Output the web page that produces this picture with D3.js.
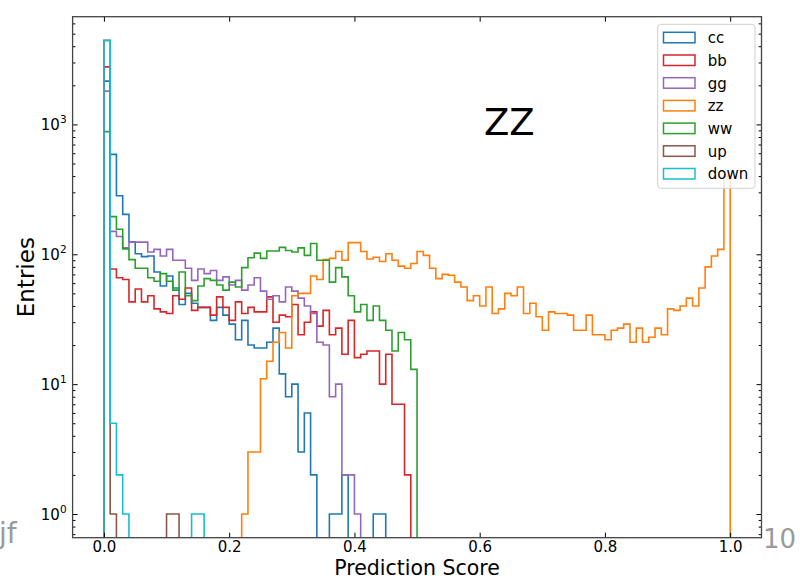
<!DOCTYPE html>
<html>
<head>
<meta charset="utf-8">
<script src="https://cdn.jsdelivr.net/npm/d3@7"></script>
<style>
  body { margin: 0; background: #fff; }
  svg { display: block; }
  text { font-family: "DejaVu Sans", sans-serif; }
</style>
</head>
<body>
<svg id="chart" width="800" height="580"></svg>
<script>
// Histogram binning: 100 equal bins on [0, 1]
const binLow = 0, binHigh = 1, binCount = 100;

// Per-class entries per bin of the prediction score
const cc = [
  2153, 588, 282, 203, 125, 101, 96, 97, 73, 57,
  68, 55, 41, 50, 42, 39, 39, 31, 39, 34,
  29, 22, 31, 20, 19, 19, 21, 27, 12, 8,
  10, 3, 6, 2, 0, 0, 1, 1, 2, 0,
  0, 0, 0, 1, 1, 0, 0, 0, 0, 0,
  0, 0, 0, 0, 0, 0, 0, 0, 0, 0,
  0, 0, 0, 0, 0, 0, 0, 0, 0, 0,
  0, 0, 0, 0, 0, 0, 0, 0, 0, 0,
  0, 0, 0, 0, 0, 0, 0, 0, 0, 0,
  0, 0, 0, 0, 0, 0, 0, 0, 0, 0
];
const bb = [
  2773, 77, 66, 64, 43, 54, 43, 48, 38, 36,
  35, 48, 45, 55, 37, 39, 39, 34, 47, 39,
  31, 43, 35, 39, 36, 36, 47, 30, 34, 33,
  41, 24, 30, 36, 28, 37, 24, 27, 17, 31,
  16, 17, 18, 18, 10, 17, 7, 7, 2, 0,
  0, 0, 0, 0, 0, 0, 0, 0, 0, 0,
  0, 0, 0, 0, 0, 0, 0, 0, 0, 0,
  0, 0, 0, 0, 0, 0, 0, 0, 0, 0,
  0, 0, 0, 0, 0, 0, 0, 0, 0, 0,
  0, 0, 0, 0, 0, 0, 0, 0, 0, 0
];
const gg = [
  1803, 150, 137, 112, 124, 124, 124, 104, 109, 97,
  109, 90, 90, 78, 63, 77, 71, 75, 63, 67,
  58, 63, 53, 58, 66, 52, 45, 48, 43, 56,
  52, 46, 40, 35, 21, 20, 8, 10, 2, 2,
  1, 0, 0, 0, 0, 0, 0, 0, 0, 0,
  0, 0, 0, 0, 0, 0, 0, 0, 0, 0,
  0, 0, 0, 0, 0, 0, 0, 0, 0, 0,
  0, 0, 0, 0, 0, 0, 0, 0, 0, 0,
  0, 0, 0, 0, 0, 0, 0, 0, 0, 0,
  0, 0, 0, 0, 0, 0, 0, 0, 0, 0
];
const zz = [
  0, 0, 0, 0, 0, 0, 0, 0, 0, 0,
  0, 0, 0, 0, 0, 0, 0, 0, 0, 0,
  0, 0, 1, 3, 3, 11, 15, 21, 25, 19,
  48, 50, 50, 68, 64, 91, 93, 105, 90, 123,
  123, 105, 92, 95, 88, 101, 90, 81, 78, 85,
  105, 98, 78, 65, 70, 69, 61, 56, 44, 48,
  40, 56, 35, 38, 50, 48, 56, 35, 42, 33,
  26, 36, 35, 35, 34, 26, 26, 34, 24, 24,
  22, 26, 27, 29, 21, 27, 21, 23, 27, 24,
  38, 37, 40, 46, 40, 55, 80, 97, 109, 400
];
const ww = [
  880, 195, 156, 110, 91, 78, 78, 66, 62, 71,
  62, 53, 73, 48, 44, 57, 65, 63, 58, 53,
  61, 56, 79, 94, 102, 93, 106, 106, 113, 107,
  104, 112, 98, 121, 90, 90, 61, 79, 67, 48,
  36, 41, 31, 40, 31, 26, 18, 25, 22, 13,
  0, 0, 0, 0, 0, 0, 0, 0, 0, 0,
  0, 0, 0, 0, 0, 0, 0, 0, 0, 0,
  0, 0, 0, 0, 0, 0, 0, 0, 0, 0,
  0, 0, 0, 0, 0, 0, 0, 0, 0, 0,
  0, 0, 0, 0, 0, 0, 0, 0, 0, 0
];
const up = [
  4437, 1, 0, 0, 0, 0, 0, 0, 0, 0,
  1, 1, 0, 0, 0, 0, 0, 0, 0, 0,
  0, 0, 0, 0, 0, 0, 0, 0, 0, 0,
  0, 0, 0, 0, 0, 0, 0, 0, 0, 0,
  0, 0, 0, 0, 0, 0, 0, 0, 0, 0,
  0, 0, 0, 0, 0, 0, 0, 0, 0, 0,
  0, 0, 0, 0, 0, 0, 0, 0, 0, 0,
  0, 0, 0, 0, 0, 0, 0, 0, 0, 0,
  0, 0, 0, 0, 0, 0, 0, 0, 0, 0,
  0, 0, 0, 0, 0, 0, 0, 0, 0, 0
];
const down = [
  4430, 5, 2, 1, 0, 0, 0, 0, 0, 0,
  0, 0, 0, 0, 1, 1, 0, 0, 0, 0,
  0, 0, 0, 0, 0, 0, 0, 0, 0, 0,
  0, 0, 0, 0, 0, 0, 0, 0, 0, 0,
  0, 0, 0, 0, 0, 0, 0, 0, 0, 0,
  0, 0, 0, 0, 0, 0, 0, 0, 0, 0,
  0, 0, 0, 0, 0, 0, 0, 0, 0, 0,
  0, 0, 0, 0, 0, 0, 0, 0, 0, 0,
  0, 0, 0, 0, 0, 0, 0, 0, 0, 0,
  0, 0, 0, 0, 0, 0, 0, 0, 0, 0
];

const seriesNames = ["cc", "bb", "gg", "zz", "ww", "up", "down"];
const seriesValues = [cc, bb, gg, zz, ww, up, down];
const seriesColors = ["#1f77b4", "#d62728", "#9467bd", "#ff7f0e", "#2ca02c", "#8c564b", "#17becf"];

const xTickValues = [0, 0.2, 0.4, 0.6, 0.8, 1.0];
const xTickLabels = ["0.0", "0.2", "0.4", "0.6", "0.8", "1.0"];
const yTickValues = [1, 10, 100, 1000];
const yTickExponents = ["0", "1", "2", "3"];

const titleText = "ZZ";
const xLabel = "Prediction Score";
const yLabel = "Entries";

// ---- layout ----
const plot = { left: 72.6, right: 761.5, top: 16.7, bottom: 537.7 };
const svg = d3.select("#chart");

const edges = d3.range(binCount + 1).map(i => binLow + (binHigh - binLow) * i / binCount);

const x = d3.scaleLinear()
  .domain([binLow - 0.05 * (binHigh - binLow), binHigh + 0.05 * (binHigh - binLow)])
  .range([plot.left, plot.right]);

// log axis with 5% margins (in log space) around the positive data range
const positives = seriesValues.flat().filter(v => v > 0);
const logLo = Math.log10(d3.min(positives)), logHi = Math.log10(d3.max(positives));
const pad = 0.05 * (logHi - logLo);
const y = d3.scaleLog()
  .domain([Math.pow(10, logLo - pad), Math.pow(10, logHi + pad)])
  .range([plot.bottom, plot.top]);

svg.append("defs").append("clipPath").attr("id", "plotClip")
  .append("rect")
  .attr("x", plot.left).attr("y", plot.top)
  .attr("width", plot.right - plot.left).attr("height", plot.bottom - plot.top);

// ---- step histograms ----
const floorY = plot.bottom + 6;
const stepLine = d3.line()
  .x(d => x(d.e))
  .y(d => d.v > 0 ? y(d.v) : floorY)
  .curve(d3.curveStepAfter);

const histLayer = svg.append("g").attr("clip-path", "url(#plotClip)");
seriesValues.forEach((vals, k) => {
  const pts = [{ e: edges[0], v: 0 }]
    .concat(vals.map((v, i) => ({ e: edges[i], v })))
    .concat([{ e: edges[binCount], v: vals[binCount - 1] }, { e: edges[binCount], v: 0 }]);
  histLayer.append("path")
    .attr("d", stepLine(pts))
    .attr("fill", "none")
    .attr("stroke", seriesColors[k])
    .attr("stroke-width", 1.6)
    .attr("stroke-linejoin", "miter");
});

// ---- ticks (all pointing inward) ----
function styleAxis(g) {
  g.select(".domain").remove();
  g.selectAll(".tick line").attr("stroke", "#000").attr("stroke-width", 1);
  g.selectAll("text").attr("font-family", "DejaVu Sans, sans-serif").attr("font-size", 15).attr("fill", "#000");
}

const [yLoD, yHiD] = y.domain();
const minorY = [];
for (let p = Math.floor(Math.log10(yLoD)); p <= Math.ceil(Math.log10(yHiD)); p++) {
  for (let m = 2; m <= 9; m++) {
    const v = m * Math.pow(10, p);
    if (v >= yLoD && v <= yHiD) minorY.push(v);
  }
}

svg.append("g").attr("transform", `translate(0,${plot.bottom})`)
  .call(d3.axisBottom(x).tickValues(xTickValues).tickSize(-5).tickPadding(3.5)
    .tickFormat((d, i) => xTickLabels[i]))
  .call(styleAxis);
svg.append("g").attr("transform", `translate(0,${plot.top})`)
  .call(d3.axisTop(x).tickValues(xTickValues).tickSize(-5).tickFormat(""))
  .call(styleAxis);

svg.append("g").attr("transform", `translate(${plot.left},0)`)
  .call(d3.axisLeft(y).tickValues(yTickValues).tickSize(-5).tickFormat(""))
  .call(styleAxis);
svg.append("g").attr("transform", `translate(${plot.left},0)`)
  .call(d3.axisLeft(y).tickValues(minorY).tickSize(-2.8).tickFormat(""))
  .call(styleAxis);
svg.append("g").attr("transform", `translate(${plot.right},0)`)
  .call(d3.axisRight(y).tickValues(yTickValues).tickSize(-5).tickFormat(""))
  .call(styleAxis);
svg.append("g").attr("transform", `translate(${plot.right},0)`)
  .call(d3.axisRight(y).tickValues(minorY).tickSize(-2.8).tickFormat(""))
  .call(styleAxis);

// y tick labels as 10 with superscript exponent
const yLab = svg.append("g");
yTickValues.forEach((v, i) => {
  const t = yLab.append("text")
    .attr("x", plot.left - 6)
    .attr("y", y(v) + 5.5)
    .attr("text-anchor", "end")
    .attr("font-size", 15)
    .attr("fill", "#000");
  t.append("tspan").text("10");
  t.append("tspan").attr("font-size", 10.5).attr("dy", -6.5).text(yTickExponents[i]);
});

// ---- spines ----
svg.append("rect")
  .attr("x", plot.left).attr("y", plot.top)
  .attr("width", plot.right - plot.left).attr("height", plot.bottom - plot.top)
  .attr("fill", "none").attr("stroke", "#444").attr("stroke-width", 1.3);

// ---- axis labels ----
svg.append("text")
  .attr("x", (plot.left + plot.right) / 2).attr("y", 574.8)
  .attr("text-anchor", "middle").attr("font-size", 20.5).attr("fill", "#000")
  .text(xLabel);
svg.append("text")
  .attr("transform", `translate(34,${(plot.top + plot.bottom) / 2}) rotate(-90)`)
  .attr("text-anchor", "middle").attr("font-size", 23).attr("fill", "#000")
  .text(yLabel);

// ---- class title inside the axes ----
svg.append("text")
  .attr("x", plot.left + 0.6 * (plot.right - plot.left) - 2)
  .attr("y", 135)
  .attr("font-size", 37).attr("fill", "#000")
  .text(titleText);

// ---- legend ----
const legend = svg.append("g");
const lg = { x: 657.7, y: 24.3, w: 97.3, h: 164, rowTop: 32.3, rowStep: 22.7 };
legend.append("rect")
  .attr("x", lg.x).attr("y", lg.y).attr("width", lg.w).attr("height", lg.h)
  .attr("rx", 3).attr("ry", 3)
  .attr("fill", "#fff").attr("fill-opacity", 0.8)
  .attr("stroke", "#d0d0d0").attr("stroke-width", 1);
seriesNames.forEach((name, k) => {
  const top = lg.rowTop + k * lg.rowStep;
  legend.append("rect")
    .attr("x", 663.5).attr("y", top).attr("width", 31.5).attr("height", 10.5)
    .attr("fill", "none").attr("stroke", seriesColors[k]).attr("stroke-width", 1.5);
  legend.append("text")
    .attr("x", 707.7).attr("y", top + 10.8)
    .attr("font-size", 15).attr("fill", "#000")
    .text(name);
});

// ---- stray grey labels at the figure edges ----
svg.append("text").attr("x", -1).attr("y", 543)
  .attr("font-size", 28).attr("fill", "#9a9a9a").text("jf");
svg.append("text").attr("x", 763).attr("y", 548)
  .attr("font-size", 26).attr("fill", "#9a9a9a").text("10");
</script>
</body>
</html>
